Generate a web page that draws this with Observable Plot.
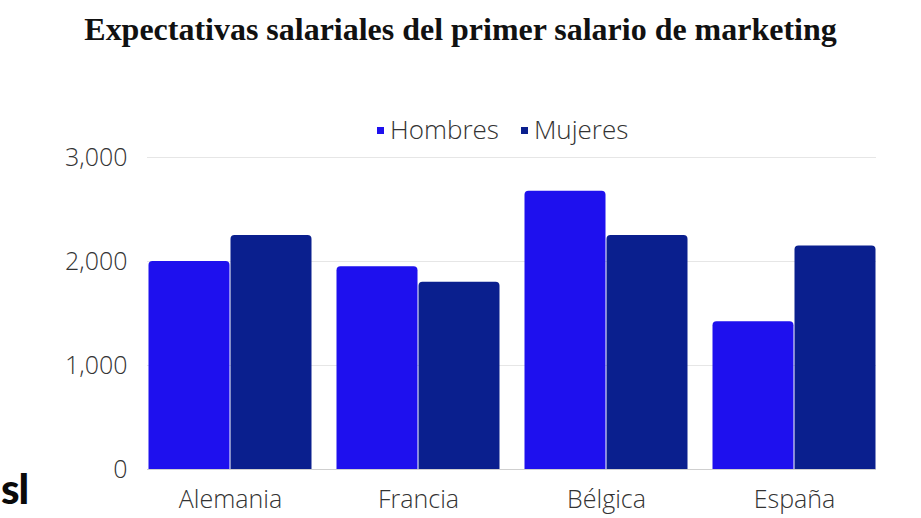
<!DOCTYPE html>
<html>
<head>
<meta charset="utf-8">
<script src="https://cdn.jsdelivr.net/npm/d3@7"></script>
<script src="https://cdn.jsdelivr.net/npm/@observablehq/plot@0.6"></script>
<style>
  html, body { margin: 0; padding: 0; background: #fff; }
  body { width: 921px; height: 518px; position: relative; overflow: hidden; }
  #title { position: absolute; left: 0; width: 921px; text-align: center; font-family: "Liberation Serif", serif; font-weight: bold; color: #111; line-height: 1; white-space: nowrap; }
  #legend { position: absolute; left: 377px; top: 116px; font-family: "Open Sans", sans-serif; font-weight: 300; font-size: 26px; line-height: 26px; color: #333; white-space: nowrap; }
  #legend .sw { display: inline-block; width: 7px; height: 7px; vertical-align: middle; position: relative; top: -2px; }
  #logo { position: absolute; left: 1px; top: 467px; font-family: Lato, sans-serif; font-weight: 900; font-size: 42px; line-height: 42px; letter-spacing: -1px; color: #0a0a0a; white-space: nowrap; }
  .layer { position: absolute; left: 0; top: 145px; }
</style>
</head>
<body>
<div id="title">Expectativas salariales del primer salario de marketing</div>
<div id="legend"></div>
<div id="logo">sl</div>
<div id="grid" class="layer"></div>
<div id="bars" class="layer"></div>
<script>
const categories = ["Alemania", "Francia", "Bélgica", "España"];
const series = ["Hombres", "Mujeres"];
const hombres = [2000, 1950, 2675, 1420];
const mujeres = [2250, 1800, 2250, 2150];
const colors = ["#1e10ee", "#0a1f8e"];
const yTicks = [0, 1000, 2000, 3000];

const data = categories.flatMap((c, i) => [
  {pais: c, sexo: "Hombres", valor: hombres[i]},
  {pais: c, sexo: "Mujeres", valor: mujeres[i]}
]);

// Title sizing to match reference width
const titleEl = document.getElementById("title");
const ctx = document.createElement("canvas").getContext("2d");
ctx.font = "bold 30px 'Liberation Serif'";
const w30 = ctx.measureText(titleEl.textContent).width;
const fs = 30 * 753 / w30;
titleEl.style.fontSize = fs + "px";
titleEl.style.top = (41 - 0.8375 * fs) + "px";

// Legend
const legend = document.getElementById("legend");
series.forEach((s, i) => {
  const sw = document.createElement("span");
  sw.className = "sw";
  sw.style.background = colors[i];
  sw.style.marginRight = "6px";
  if (i > 0) sw.style.marginLeft = "22px";
  legend.appendChild(sw);
  const t = document.createElement("span");
  t.textContent = s;
  legend.appendChild(t);
});

const common = {
  width: 921,
  height: 373,
  marginTop: 12,
  marginBottom: 49,
  marginLeft: 147,
  marginRight: 45,
  style: {fontFamily: "'Open Sans', sans-serif", fontSize: "25px", fontWeight: 300, color: "#333", background: "transparent", overflow: "visible"}
};

// Background layer: grid lines, baseline and y axis across the full frame
const gridPlot = Plot.plot({
  ...common,
  x: {axis: null},
  y: {domain: [0, 3000], ticks: yTicks, tickFormat: d3.format(","), tickSize: 0, tickPadding: 20, label: null},
  marks: [
    Plot.ruleY(yTicks.filter(v => v > 0), {stroke: "#e6e6e6", strokeWidth: 1}),
    Plot.ruleY([0], {stroke: "#cfcfcf", strokeWidth: 1})
  ]
});
document.getElementById("grid").appendChild(gridPlot);

// Foreground layer: grouped bars (rounded bottom corners pushed below the frame and clipped)
const barPlot = Plot.plot({
  ...common,
  fx: {domain: categories, paddingInner: 0.13, paddingOuter: 0, label: null, axis: "bottom", tickSize: 0, tickPadding: 21},
  x: {domain: series, padding: 0, axis: null},
  y: {domain: [0, 3000], axis: null},
  color: {domain: series, range: colors},
  marks: [
    Plot.rectY(data, {fx: "pais", x: "sexo", y1: -200, y2: "valor", fill: "sexo", rx: 4, insetLeft: 0.5, insetRight: 0.5, clip: true})
  ]
});
document.getElementById("bars").appendChild(barPlot);
</script>
</body>
</html>
